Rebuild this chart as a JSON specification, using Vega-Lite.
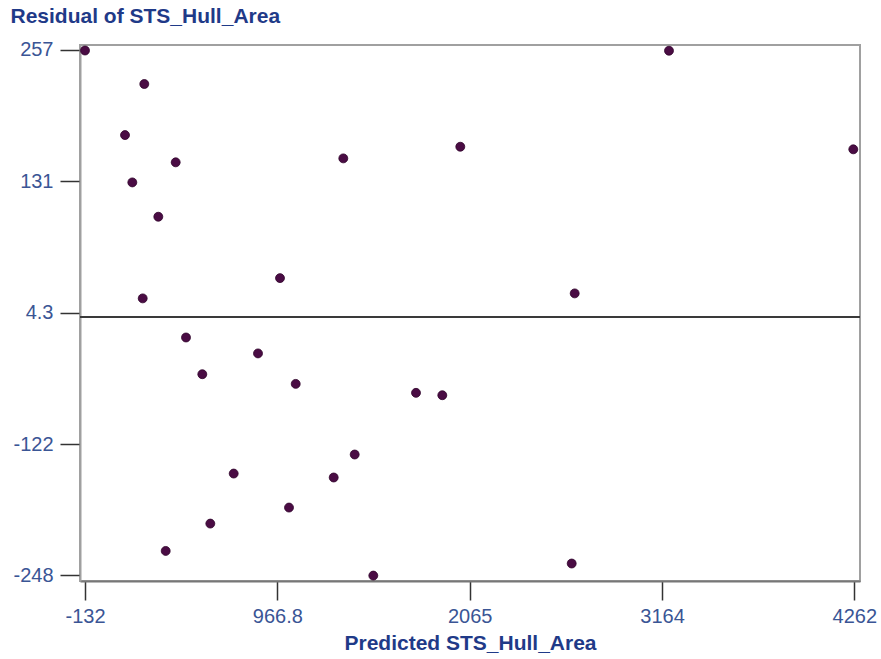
{
  "$schema": "https://vega.github.io/schema/vega-lite/v6.json",
  "width": 780,
  "height": 536,
  "autosize": {"type": "none"},
  "padding": {"left": 80, "top": 45, "right": 21, "bottom": 78},
  "background": "white",
  "config": {
    "view": {"stroke": "#a0a0a0", "strokeWidth": 2},
    "axis": {"grid": false, "labelFont": "Liberation Sans", "titleFont": "Liberation Sans"}
  },
  "data": {
    "values": [
      {"pred": -132, "resid": 256.5},
      {"pred": 206.7, "resid": 224.3},
      {"pred": 96.5, "resid": 175.2},
      {"pred": 386, "resid": 149.0},
      {"pred": 138.2, "resid": 129.7},
      {"pred": 286.7, "resid": 96.7},
      {"pred": 1343.3, "resid": 152.8},
      {"pred": 981.8, "resid": 37.7},
      {"pred": 197.6, "resid": 18.2},
      {"pred": 444.9, "resid": -19.4},
      {"pred": 856.1, "resid": -34.7},
      {"pred": 538, "resid": -54.7},
      {"pred": 1071.5, "resid": -64},
      {"pred": 1758.6, "resid": -72.6},
      {"pred": 1908.8, "resid": -74.9},
      {"pred": 1408.4, "resid": -131.9},
      {"pred": 717.3, "resid": -150.2},
      {"pred": 1288.5, "resid": -154},
      {"pred": 1033.2, "resid": -182.9},
      {"pred": 583.7, "resid": -198.3},
      {"pred": 328.9, "resid": -224.6},
      {"pred": 1514.7, "resid": -248.3},
      {"pred": 3203.6, "resid": 256.3},
      {"pred": 2011.6, "resid": 164},
      {"pred": 4256.3, "resid": 161.5},
      {"pred": 2665, "resid": 23},
      {"pred": 2647.9, "resid": -236.7}
    ]
  },
  "layer": [
    {
      "mark": {"type": "rule", "color": "#3a3a3a", "strokeWidth": 1.5},
      "encoding": {"y": {"datum": 0, "type": "quantitative"}}
    },
    {
      "mark": {"type": "point", "filled": true, "shape": "circle", "size": 80, "color": "#4a0c44", "opacity": 1, "stroke": "#2e0329", "strokeWidth": 0.8},
      "encoding": {
        "x": {
          "field": "pred", "type": "quantitative",
          "scale": {"domain": [-160.6, 4294.6], "nice": false, "zero": false},
          "axis": {
            "values": [-132, 966.8, 2065, 3164, 4262],
            "format": ".4~r",
            "labelExpr": "replace(datum.label, '\u2212', '-')",
            "title": "Predicted STS_Hull_Area",
            "titleFontSize": 21, "titleFontWeight": "bold", "titleColor": "#1f3a88",
            "titleX": 390, "titleY": 68, "titleBaseline": "alphabetic", "titleAlign": "center",
            "labelFontSize": 20, "labelColor": "#3a5595", "labelPadding": 6,
            "tickSize": 19, "tickColor": "#333333", "tickWidth": 1.5,
            "domainColor": "#777777", "domainWidth": 2
          }
        },
        "y": {
          "field": "resid", "type": "quantitative",
          "scale": {"domain": [-253.5, 261.8], "nice": false, "zero": false},
          "axis": {
            "values": [-248, -122, 4.3, 131, 257],
            "format": ".3~r",
            "labelExpr": "replace(datum.label, '\u2212', '-')",
            "title": "Residual of STS_Hull_Area",
            "titleAngle": 0, "titleX": -70, "titleY": -23,
            "titleAlign": "left", "titleBaseline": "alphabetic",
            "titleFontSize": 21, "titleFontWeight": "bold", "titleColor": "#1f3a88",
            "labelFontSize": 20, "labelColor": "#3a5595", "labelPadding": 7,
            "tickSize": 20, "tickColor": "#333333", "tickWidth": 1.5,
            "domainColor": "#a0a0a0", "domainWidth": 2
          }
        }
      }
    }
  ]
}
